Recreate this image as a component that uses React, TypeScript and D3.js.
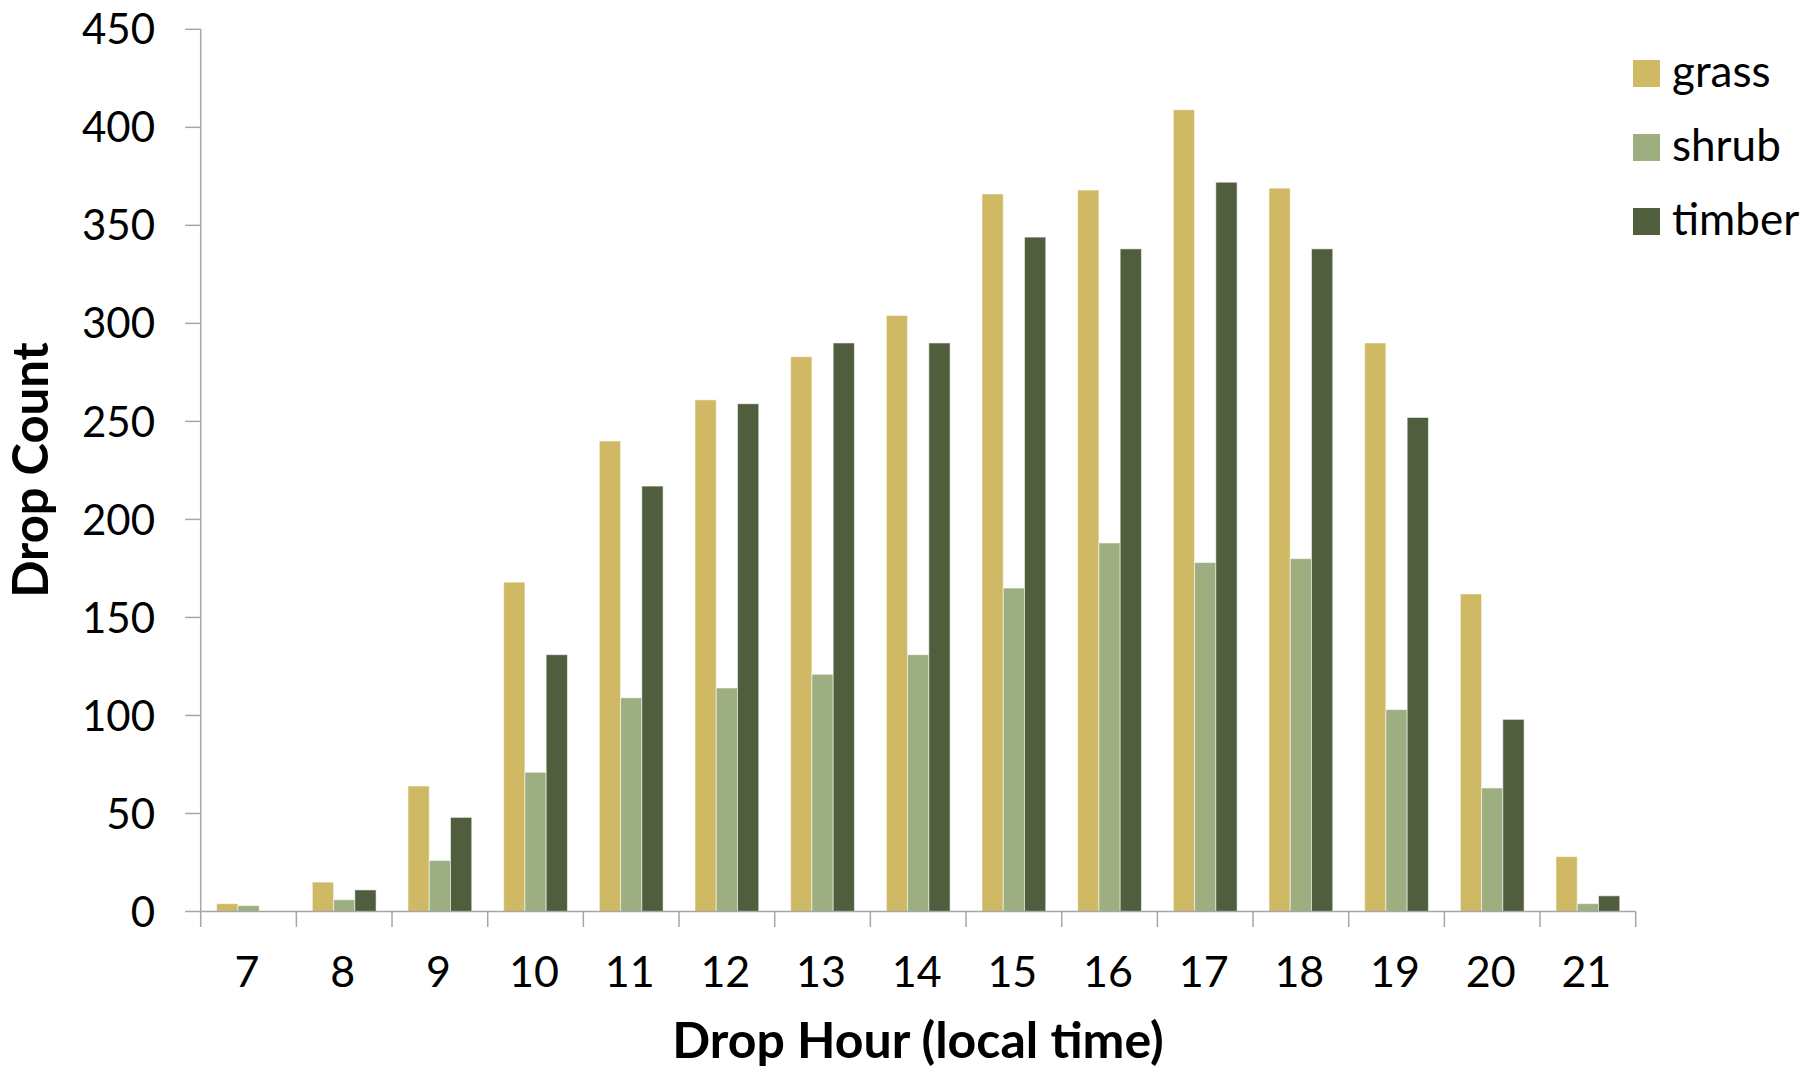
import React, { useEffect, useRef } from "react";
import * as d3 from "d3";

const hours: string[] = ["7", "8", "9", "10", "11", "12", "13", "14", "15", "16", "17", "18", "19", "20", "21"];
const grass: number[] = [4, 15, 64, 168, 240, 261, 283, 304, 366, 368, 409, 369, 290, 162, 28];
const shrub: number[] = [3, 6, 26, 71, 109, 114, 121, 131, 165, 188, 178, 180, 103, 63, 4];
const timber: number[] = [0, 11, 48, 131, 217, 259, 290, 290, 344, 338, 372, 338, 252, 98, 8];
const seriesNames: string[] = ["grass", "shrub", "timber"];
const seriesColors: string[] = ["#CFB965", "#9DAF80", "#505E3D"];
const yTicks: number[] = [0, 50, 100, 150, 200, 250, 300, 350, 400, 450];

const W = 1820;
const H = 1068;
const FONT = "Lato, 'Open Sans', sans-serif";

export default function App() {
  const ref = useRef<SVGSVGElement | null>(null);

  useEffect(() => {
    document.body.style.margin = "0";
    const svg = d3.select(ref.current);
    svg.selectAll("*").remove();

    const left = 200.7;
    const right = 1635.7;
    const top = 29.3;
    const bottom = 911.5;
    const axisColor = "#A6A6A6";

    const x = d3.scaleBand<string>().domain(hours).range([left, right]).padding(0);
    const bw = x.bandwidth();
    const w = bw / 4.5;
    const xs = d3.scaleBand<string>().domain(seriesNames).range([0.75 * w, 3.75 * w]).padding(0);
    const y = d3.scaleLinear().domain([0, 450]).range([bottom, top]);

    const values = [grass, shrub, timber];

    // bars
    seriesNames.forEach((name, si) => {
      svg
        .append("g")
        .selectAll("rect")
        .data(hours.map((h, i) => ({ h, v: values[si][i] })))
        .join("rect")
        .attr("x", (d) => (x(d.h) as number) + (xs(name) as number))
        .attr("y", (d) => y(d.v))
        .attr("width", xs.bandwidth())
        .attr("height", (d) => bottom - y(d.v))
        .attr("fill", seriesColors[si])
        .attr("stroke", "#ffffff")
        .attr("stroke-opacity", 0.55)
        .attr("stroke-width", 1);
    });

    // y axis
    const gy = svg.append("g");
    gy.append("line")
      .attr("x1", left).attr("x2", left)
      .attr("y1", top).attr("y2", bottom)
      .attr("stroke", axisColor).attr("stroke-width", 1.5);
    gy.selectAll("line.tick")
      .data(yTicks)
      .join("line")
      .attr("class", "tick")
      .attr("x1", left - 15.5).attr("x2", left)
      .attr("y1", (d) => y(d)).attr("y2", (d) => y(d))
      .attr("stroke", axisColor).attr("stroke-width", 1.5);
    gy.selectAll("text")
      .data(yTicks)
      .join("text")
      .attr("x", 155)
      .attr("y", (d) => y(d))
      .attr("dy", "0.36em")
      .attr("text-anchor", "end")
      .attr("font-family", FONT)
      .attr("font-size", 42)
      .attr("fill", "#000")
      .text((d) => String(d));

    // x axis
    const gx = svg.append("g");
    gx.append("line")
      .attr("x1", left).attr("x2", right)
      .attr("y1", bottom).attr("y2", bottom)
      .attr("stroke", axisColor).attr("stroke-width", 1.5);
    const boundaries = hours.map((h) => x(h) as number).concat([right]);
    gx.selectAll("line.tick")
      .data(boundaries)
      .join("line")
      .attr("class", "tick")
      .attr("x1", (d) => d).attr("x2", (d) => d)
      .attr("y1", bottom).attr("y2", bottom + 15.5)
      .attr("stroke", axisColor).attr("stroke-width", 1.5);
    gx.selectAll("text")
      .data(hours)
      .join("text")
      .attr("x", (d) => (x(d) as number) + bw / 2 - 1.5)
      .attr("y", 987)
      .attr("text-anchor", "middle")
      .attr("font-family", FONT)
      .attr("font-size", 43)
      .attr("fill", "#000")
      .text((d) => d);

    // axis titles
    svg.append("text")
      .attr("transform", "translate(48,470) rotate(-90)")
      .attr("text-anchor", "middle")
      .attr("font-family", FONT)
      .attr("font-weight", 700)
      .attr("font-size", 49)
      .attr("fill", "#000")
      .text("Drop Count");
    svg.append("text")
      .attr("x", 918)
      .attr("y", 1058)
      .attr("text-anchor", "middle")
      .attr("font-family", FONT)
      .attr("font-weight", 700)
      .attr("font-size", 50)
      .attr("fill", "#000")
      .text("Drop Hour (local time)");

    // legend
    const lg = svg.append("g");
    seriesNames.forEach((name, i) => {
      const sy = 60 + i * 74;
      lg.append("rect")
        .attr("x", 1633).attr("y", sy)
        .attr("width", 27).attr("height", 27)
        .attr("fill", seriesColors[i]);
      lg.append("text")
        .attr("x", 1672).attr("y", sy + 27)
        .attr("font-family", FONT)
        .attr("font-size", 44)
        .attr("fill", "#000")
        .text(name);
    });
  }, []);

  return (
    <svg
      ref={ref}
      width={W}
      height={H}
      viewBox={`0 0 ${W} ${H}`}
      style={{ display: "block", position: "absolute", left: 0, top: 0, background: "#fff" }}
    />
  );
}
